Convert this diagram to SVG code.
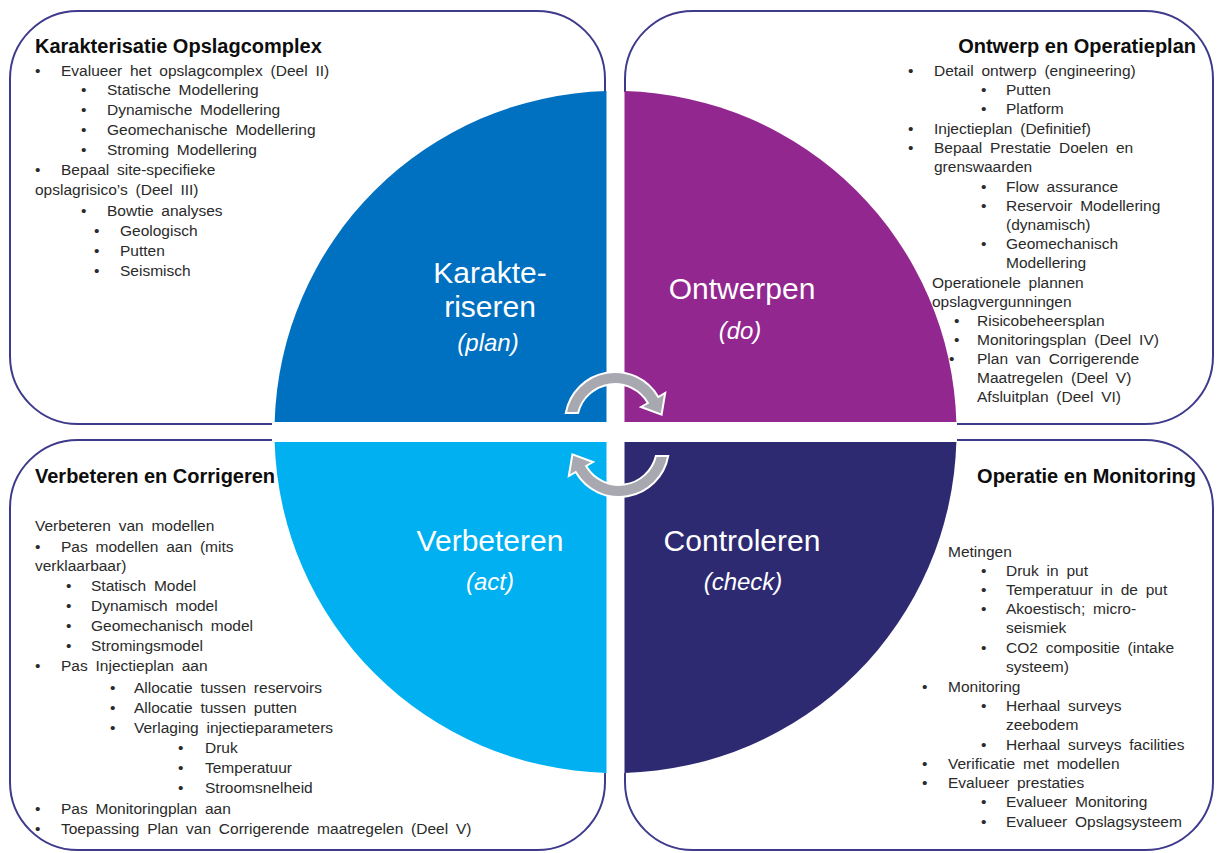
<svg xmlns="http://www.w3.org/2000/svg" width="1217" height="853" viewBox="0 0 1217 853">
<defs>
<style>
.box{fill:none;stroke:#3f3b8c;stroke-width:2}
.t{font-family:"Liberation Sans",Arial,sans-serif;font-size:15.5px;fill:#2a2a2a;word-spacing:3.5px}
.h{font-family:"Liberation Sans",Arial,sans-serif;font-size:20px;font-weight:bold;fill:#0d0d0d}
.q{font-family:"Liberation Sans",Arial,sans-serif;font-size:30px;fill:#ffffff;text-anchor:middle}
.qi{font-family:"Liberation Sans",Arial,sans-serif;font-size:24px;font-style:italic;fill:#ffffff;text-anchor:middle}
.arrow{fill:#a7a8b0;stroke:#ffffff;stroke-width:2}
</style>
<path id="carrow" d="M 565.8 413 A 50 50 0 0 1 658.3 397 L 665.2 393 L 661.6 414.7 L 641 407 L 647.9 403 A 38 38 0 0 0 578.1 413 Z"/>
</defs>
<rect width="1217" height="853" fill="#ffffff"/>

<g id="box-karakterisatie">
<path class="box" d="M 272 424 L 78 424 A 68 68 0 0 1 10 356 L 10 79 A 68 68 0 0 1 78 11 L 537 11 A 68 68 0 0 1 605 79 L 605 92"/>
<text class="h" x="35" y="53">Karakterisatie Opslagcomplex</text>
<g class="t">
<text x="35" y="76">•</text><text x="61" y="76">Evalueer het opslagcomplex (Deel II)</text>
<text x="81" y="95">•</text><text x="107" y="95">Statische Modellering</text>
<text x="81" y="115">•</text><text x="107" y="115">Dynamische Modellering</text>
<text x="81" y="135">•</text><text x="107" y="135">Geomechanische Modellering</text>
<text x="81" y="155">•</text><text x="107" y="155">Stroming Modellering</text>
<text x="35" y="175">•</text><text x="61" y="175">Bepaal site-specifieke</text>
<text x="35" y="195">opslagrisico’s (Deel III)</text>
<text x="81" y="216">•</text><text x="107" y="216">Bowtie analyses</text>
<text x="94" y="236">•</text><text x="120" y="236">Geologisch</text>
<text x="94" y="256">•</text><text x="120" y="256">Putten</text>
<text x="94" y="276">•</text><text x="120" y="276">Seismisch</text>
</g>
</g>

<g id="box-ontwerp">
<path class="box" d="M 625 92 L 625 79 A 68 68 0 0 1 693 11 L 1145 11 A 68 68 0 0 1 1213 79 L 1213 356 A 68 68 0 0 1 1145 424 L 957 424"/>
<text class="h" x="1196" y="53" text-anchor="end">Ontwerp en Operatieplan</text>
<g class="t">
<text x="908" y="76">•</text><text x="934" y="76">Detail ontwerp (engineering)</text>
<text x="981" y="95">•</text><text x="1006" y="95">Putten</text>
<text x="981" y="114">•</text><text x="1006" y="114">Platform</text>
<text x="908" y="134">•</text><text x="934" y="134">Injectieplan (Definitief)</text>
<text x="908" y="153">•</text><text x="934" y="153">Bepaal  Prestatie Doelen en</text>
<text x="934" y="172">grenswaarden</text>
<text x="981" y="192">•</text><text x="1006" y="192">Flow assurance</text>
<text x="981" y="211">•</text><text x="1006" y="211">Reservoir Modellering</text>
<text x="1006" y="230">(dynamisch)</text>
<text x="981" y="249">•</text><text x="1006" y="249">Geomechanisch</text>
<text x="1006" y="268">Modellering</text>
<text x="932" y="288">Operationele plannen</text>
<text x="932" y="307">opslagvergunningen</text>
<text x="954" y="326">•</text><text x="977" y="326">Risicobeheersplan</text>
<text x="954" y="345">•</text><text x="977" y="345">Monitoringsplan (Deel IV)</text>
<text x="949" y="364">•</text><text x="977" y="364">Plan van Corrigerende</text>
<text x="977" y="383">Maatregelen (Deel V)</text>
<text x="977" y="402">Afsluitplan (Deel VI)</text>
</g>
</g>

<g id="box-verbeteren">
<path class="box" d="M 272 440 L 78 440 A 68 68 0 0 0 10 508 L 10 782 A 68 68 0 0 0 78 850 L 537 850 A 68 68 0 0 0 605 782 L 605 773"/>
<text class="h" x="35" y="483">Verbeteren en Corrigeren</text>
<g class="t">
<text x="35" y="531">Verbeteren van modellen</text>
<text x="35" y="552">•</text><text x="61" y="552">Pas modellen aan (mits</text>
<text x="35" y="571">verklaarbaar)</text>
<text x="66" y="591">•</text><text x="91" y="591">Statisch Model</text>
<text x="66" y="611">•</text><text x="91" y="611">Dynamisch model</text>
<text x="66" y="631">•</text><text x="91" y="631">Geomechanisch model</text>
<text x="66" y="651">•</text><text x="91" y="651">Stromingsmodel</text>
<text x="35" y="671">•</text><text x="61" y="671">Pas Injectieplan aan</text>
<text x="110" y="693">•</text><text x="134" y="693">Allocatie tussen reservoirs</text>
<text x="110" y="713">•</text><text x="134" y="713">Allocatie tussen putten</text>
<text x="110" y="733">•</text><text x="134" y="733">Verlaging injectieparameters</text>
<text x="178" y="753">•</text><text x="205" y="753">Druk</text>
<text x="178" y="773">•</text><text x="205" y="773">Temperatuur</text>
<text x="178" y="793">•</text><text x="205" y="793">Stroomsnelheid</text>
<text x="35" y="814">•</text><text x="61" y="814">Pas Monitoringplan aan</text>
<text x="35" y="834">•</text><text x="61" y="834">Toepassing Plan van Corrigerende maatregelen (Deel V)</text>
</g>
</g>

<g id="box-operatie">
<path class="box" d="M 957 440 L 1145 440 A 68 68 0 0 1 1213 508 L 1213 782 A 68 68 0 0 1 1145 850 L 693 850 A 68 68 0 0 1 625 782 L 625 773"/>
<text class="h" x="1196" y="483" text-anchor="end">Operatie en Monitoring</text>
<g class="t">
<text x="948" y="557">Metingen</text>
<text x="981" y="576">•</text><text x="1006" y="576">Druk in put</text>
<text x="981" y="595">•</text><text x="1006" y="595">Temperatuur  in de put</text>
<text x="981" y="614">•</text><text x="1006" y="614">Akoestisch; micro-</text>
<text x="1006" y="633">seismiek</text>
<text x="981" y="653">•</text><text x="1006" y="653">CO2 compositie (intake</text>
<text x="1006" y="672">systeem)</text>
<text x="922" y="692">•</text><text x="948" y="692">Monitoring</text>
<text x="981" y="711">•</text><text x="1006" y="711">Herhaal surveys</text>
<text x="1006" y="730">zeebodem</text>
<text x="981" y="750">•</text><text x="1006" y="750">Herhaal surveys facilities</text>
<text x="922" y="769">•</text><text x="948" y="769">Verificatie met modellen</text>
<text x="922" y="788">•</text><text x="948" y="788">Evalueer prestaties</text>
<text x="981" y="807">•</text><text x="1006" y="807">Evalueer Monitoring</text>
<text x="981" y="827">•</text><text x="1006" y="827">Evalueer Opslagsysteem</text>
</g>
</g>

<g id="quadrant-plan">
<path fill="#0070c0" d="M 606.5 422 L 606.5 91.1 A 341 341 0 0 0 274.65 422 Z"/>
<text class="q" x="490" y="283">Karakte-</text>
<text class="q" x="490" y="317">riseren</text>
<text class="qi" x="488" y="351">(plan)</text>
</g>

<g id="quadrant-do">
<path fill="#92278f" d="M 624.5 422 L 624.5 91.1 A 341 341 0 0 1 956.35 422 Z"/>
<text class="q" x="742" y="299">Ontwerpen</text>
<text class="qi" x="740" y="339">(do)</text>
</g>

<g id="quadrant-act">
<path fill="#00b0f0" d="M 606.5 442 L 274.65 442 A 341 341 0 0 0 606.5 772.9 Z"/>
<text class="q" x="490" y="551">Verbeteren</text>
<text class="qi" x="490" y="590">(act)</text>
</g>

<g id="quadrant-check">
<path fill="#2e2a72" d="M 624.5 442 L 956.35 442 A 341 341 0 0 1 624.5 772.9 Z"/>
<text class="q" x="742" y="551">Controleren</text>
<text class="qi" x="743" y="590">(check)</text>
</g>

<g id="connectors">
<use href="#carrow" class="arrow"/>
<use href="#carrow" class="arrow" transform="rotate(180 617 434.5)"/>
</g>
</svg>
